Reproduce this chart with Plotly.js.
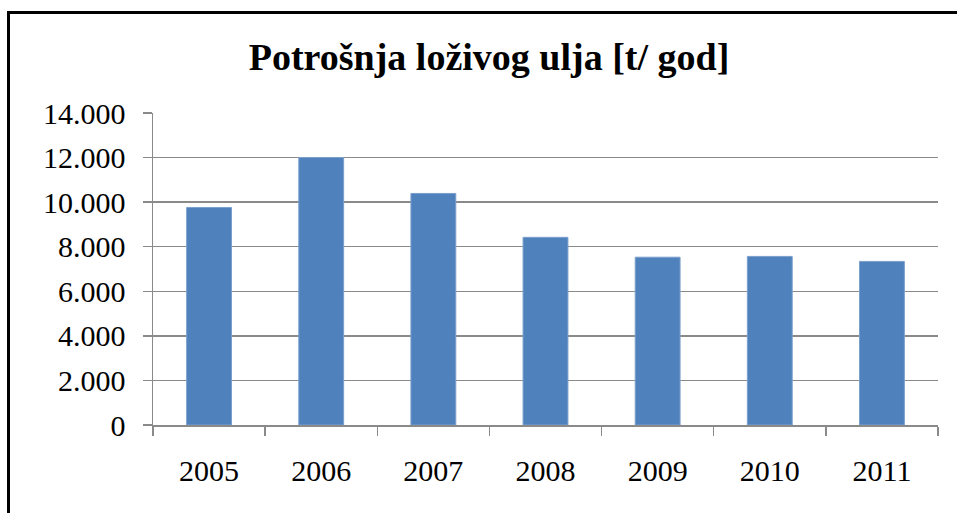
<!DOCTYPE html>
<html>
<head>
<meta charset="utf-8">
<script src="https://cdn.plot.ly/plotly-3.0.1.min.js"></script>
<style>
  html, body { margin: 0; padding: 0; background: #fff; }
  #wrap { position: relative; width: 957px; height: 513px; overflow: hidden; }
  #chart { width: 957px; height: 513px; }
  #frame { position: absolute; left: 7px; top: 11px; width: 1000px; height: 600px;
           border-left: 3px solid #000; border-top: 3px solid #000; pointer-events: none; }
</style>
</head>
<body>
<div id="wrap">
  <div id="chart"></div>
  <div id="frame"></div>
</div>
<script>
const years = ['2005', '2006', '2007', '2008', '2009', '2010', '2011'];
const consumption = [9760, 12000, 10390, 8420, 7530, 7565, 7340];
const yTicks = [0, 2000, 4000, 6000, 8000, 10000, 12000, 14000];
const chartTitle = 'Potrošnja loživog ulja [t/ god]';

const serif = 'Liberation Serif';

const trace = {
  type: 'bar',
  x: years,
  y: consumption,
  marker: { color: '#4F81BD', line: { color: '#7B9FCC', width: 1 } },
  hoverinfo: 'x+y'
};

const layout = {
  width: 957,
  height: 513,
  margin: { l: 153, r: 19, t: 113, b: 88, pad: 0 },
  paper_bgcolor: 'rgba(0,0,0,0)',
  plot_bgcolor: '#fff',
  separators: ',.',
  showlegend: false,
  bargap: 0.6,
  title: {
    text: '<b>' + chartTitle + '</b>',
    font: { family: serif, size: 38, color: '#000' },
    x: 0.511, xref: 'container', xanchor: 'center',
    y: 1 - 57 / 513, yref: 'container', yanchor: 'middle'
  },
  xaxis: {
    type: 'category',
    tickson: 'boundaries',
    ticks: 'outside',
    ticklen: 9,
    tickwidth: 1.5,
    tickcolor: '#8a8a8a',
    showline: true,
    linecolor: '#8a8a8a',
    linewidth: 1.5,
    showgrid: false,
    tickfont: { family: serif, size: 30, color: '#000' },
    ticklabelstandoff: 18
  },
  yaxis: {
    range: [0, 14000],
    tickvals: yTicks,
    tickformat: ',d',
    ticks: 'outside',
    ticklen: 9,
    tickwidth: 1.5,
    tickcolor: '#8a8a8a',
    showline: true,
    linecolor: '#8a8a8a',
    linewidth: 1.5,
    showgrid: true,
    gridcolor: '#8a8a8a',
    gridwidth: 1.5,
    zeroline: false,
    tickfont: { family: serif, size: 30, color: '#000' },
    ticklabelstandoff: 11
  }
};

Plotly.newPlot('chart', [trace], layout, { displayModeBar: false, staticPlot: true });
</script>
</body>
</html>
